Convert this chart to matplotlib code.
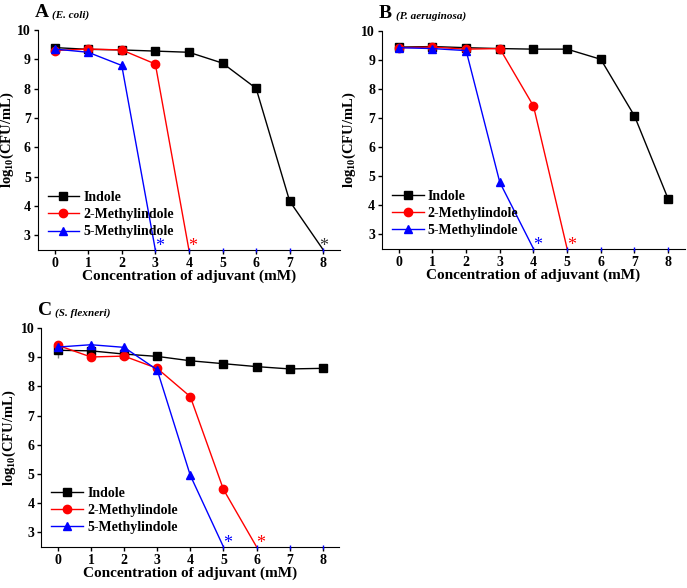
import matplotlib
matplotlib.use("Agg")
from matplotlib import pyplot as plt

plt.rcParams['font.family'] = ['Liberation Serif', 'DejaVu Serif']
plt.rcParams['font.weight'] = 'bold'
plt.rcParams['mathtext.fontset'] = 'custom'
plt.rcParams['mathtext.rm'] = 'Liberation Serif:bold'

conc = [0, 1, 2, 3, 4, 5, 6, 7, 8]
lod = 2.5  # detection limit, bottom of the axis

# A (E. coli)
a_indole = [9.40, 9.34, 9.32, 9.28, 9.24, 8.87, 8.01, 4.16, lod]
a_2m = [9.30, 9.35, 9.32, 8.84, lod]
a_5m = [9.35, 9.24, 8.79, lod]
a_stars = [(3, 'blue'), (4, 'red'), (8, '#333333')]

# B (P. aeruginosa)
b_indole = [9.45, 9.47, 9.43, 9.40, 9.38, 9.38, 9.03, 7.08, 4.22]
b_2m = [9.43, 9.45, 9.38, 9.40, 7.42, lod]
b_5m = [9.43, 9.40, 9.33, 4.79, lod]
b_stars = [(4, 'blue'), (5, 'red')]

# C (S. flexneri)
c_indole = [9.24, 9.22, 9.11, 9.03, 8.88, 8.78, 8.68, 8.60, 8.62]
c_indole_err = [0.28, 0.03, 0.03, 0.03, 0.03, 0.03, 0.03, 0.03, 0.03]
c_2m = [9.41, 9.01, 9.04, 8.62, 7.65, 4.47, lod]
c_5m = [9.35, 9.43, 9.34, 8.57, 4.95, lod]
c_stars = [(5, 'blue'), (6, 'red')]


def panel(ax, indole, m2, m5, stars, letter, species, ylab_x, leg_y, err=None):
    if err is not None:
        ax.errorbar(conc, indole, yerr=err, fmt='none', ecolor='gray',
                    elinewidth=1, capsize=0, zorder=1)
    series = [(indole, 'black', 's', 'Indole'),
              (m2, 'red', 'o', '2-Methylindole'),
              (m5, 'blue', '^', '5-Methylindole')]
    for vals, col, mk, lab in series:
        xs = conc[:len(vals)]
        marked = [i for i, v in enumerate(vals) if v > lod]
        ax.plot(xs, vals, color=col, marker=mk, markersize=6, lw=1,
                markevery=marked, label=lab, zorder=3)
    # clipped points below detection
    start = len(m5) - 1
    ax.plot(conc[start:], [lod] * len(conc[start:]), ls='none', marker='|',
            color='blue', markersize=3, clip_on=False, zorder=4)
    for x, col in stars:
        dx = 0.0 if x == 8 else 0.12
        ax.text(x + dx, 2.33, '*', color=col, fontsize=13, ha='center',
                va='bottom', fontweight='normal')
    ax.set_xlim(-0.5, 8.5)
    ax.set_ylim(2.5, 10)
    ax.set_xticks(conc)
    ax.set_yticks(range(3, 11))
    ax.spines['top'].set_visible(False)
    ax.spines['right'].set_visible(False)
    ax.tick_params(direction='out', length=3, width=1, labelsize=10, pad=2)
    for lab in ax.get_xticklabels() + ax.get_yticklabels():
        lab.set_fontweight('bold')
    ax.set_xlabel('Concentration of adjuvant (mM)', fontsize=11,
                  fontweight='bold', labelpad=0)
    ax.set_ylabel(r'log$_{10}$(CFU/mL)', fontsize=10.5, fontweight='bold')
    ax.yaxis.set_label_coords(ylab_x, 0.5)
    ax.legend(loc='lower left', frameon=False, fontsize=10,
              handlelength=2.3, handletextpad=0.3, labelspacing=0.3,
              borderaxespad=0.3, bbox_to_anchor=(0, leg_y))
    ax.text(-0.01, 1.04, letter, transform=ax.transAxes, fontsize=14,
            fontweight='bold', ha='left', va='bottom')
    ax.text(0.047, 1.045, '(' + species + ')', transform=ax.transAxes,
            fontsize=8, fontweight='bold', style='italic', ha='left',
            va='bottom')


fig = plt.figure(figsize=(6.87, 5.88), dpi=100)
ax_a = fig.add_axes([0.055, 0.575, 0.44, 0.374])
ax_b = fig.add_axes([0.556, 0.577, 0.441, 0.370])
ax_c = fig.add_axes([0.060, 0.070, 0.434, 0.372])

panel(ax_a, a_indole, a_2m, a_5m, a_stars, 'A', 'E. coli', -0.072, 0.008)
panel(ax_b, b_indole, b_2m, b_5m, b_stars, 'B', 'P. aeruginosa', -0.08, 0.008)
panel(ax_c, c_indole, c_2m, c_5m, c_stars, 'C', 'S. flexneri', -0.077, 0.015,
      c_indole_err)

fig.savefig('out.png', dpi=100)
